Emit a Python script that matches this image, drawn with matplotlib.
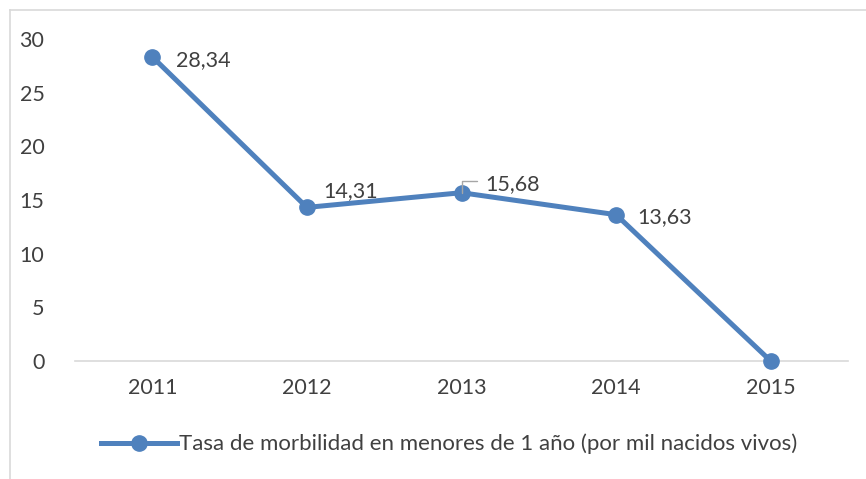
import matplotlib.pyplot as plt
from matplotlib.lines import Line2D

years = ['2011', '2012', '2013', '2014', '2015']
tasa = [28.34, 14.31, 15.68, 13.63, 0]
etiquetas = ['28,34', '14,31', '15,68', '13,63', '']
serie = 'Tasa de morbilidad en menores de 1 año (por mil nacidos vivos)'

plt.rcParams['font.family'] = ['Lato', 'DejaVu Sans']
azul = '#4F81BD'
gris = '#404040'
fs = 15.5

fig = plt.figure(figsize=(8.66, 4.79), dpi=100)
ax = fig.add_axes([75 / 866, 1 - 361 / 479, 773 / 866, 322 / 479])

x = range(len(years))
ax.plot(x, tasa, color=azul, lw=3.6, marker='o', ms=11, solid_capstyle='round',
        clip_on=False, zorder=3)

# data labels
offsets = [(17, -2), (12, 12), (17, 6), (15, -2)]
for i, (lab, off) in enumerate(zip(etiquetas[:4], offsets)):
    ax.annotate(lab, (i, tasa[i]), xytext=off, textcoords='offset points',
                fontsize=fs, color=gris, va='center', ha='left')
# leader line for 2013
ax.annotate('', (2, tasa[2]), xytext=(2.1, tasa[2] + 1.1),
            arrowprops=dict(arrowstyle='-', color='#A6A6A6', lw=1.0, shrinkA=0, shrinkB=0,
                            connectionstyle='angle,angleA=0,angleB=90,rad=0'))

ax.set_xlim(-0.5, 4.5)
ax.set_ylim(0, 30)
ax.set_yticks(range(0, 31, 5))
ax.set_xticks(list(x))
ax.set_xticklabels(years)
ax.tick_params(length=0, labelsize=fs, colors=gris)
ax.tick_params(axis='x', pad=12)
ax.tick_params(axis='y', pad=22)
for s in ['top', 'right', 'left']:
    ax.spines[s].set_visible(False)
ax.spines['bottom'].set_color('#D9D9D9')
ax.spines['bottom'].set_linewidth(1.2)

handle = Line2D([], [], color=azul, lw=3.6, marker='o', ms=11)
fig.legend([handle], [serie], loc='center', bbox_to_anchor=(449 / 866, 1 - 444 / 479),
           frameon=False, fontsize=16, labelcolor=gris, handlelength=3.4,
           handletextpad=0.1)

# chart frame (left and top edges visible)
fig.add_artist(Line2D([10 / 866, 10 / 866], [0, 1 - 10 / 479], color='#D9D9D9', lw=1.2,
                      transform=fig.transFigure))
fig.add_artist(Line2D([10 / 866, 1], [1 - 10 / 479, 1 - 10 / 479], color='#D9D9D9', lw=1.2,
                      transform=fig.transFigure))

fig.savefig('out.png', dpi=100)
